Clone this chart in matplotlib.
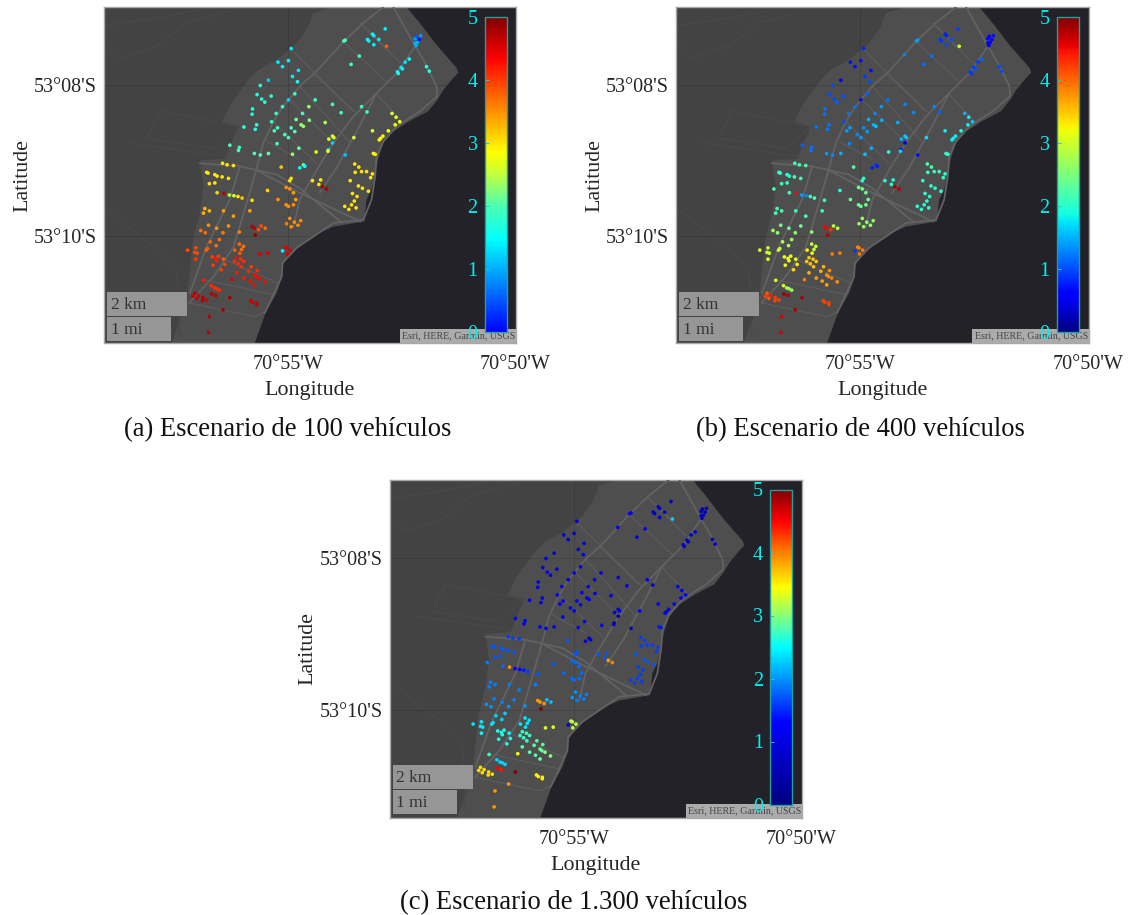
import numpy as np
import matplotlib
matplotlib.use("Agg")
import matplotlib.pyplot as plt
from matplotlib.colors import LinearSegmentedColormap
from matplotlib.patches import Polygon, Rectangle

plt.rcParams['font.family'] = ['Liberation Serif', 'DejaVu Serif']

nan = float('nan')

# Stations: arc minutes west of 70 deg, arc minutes south of 53 deg
lon_w = [
    52.86, 53.14, 53.11, 53.00, 53.25, 53.22, 53.11, 52.83, 53.77, 53.74,
    53.43, 53.61, 54.03, 52.20, 52.17, 52.11, 52.08, 52.20, 52.15, 52.18,
    52.33, 52.42, 52.51, 52.48, 52.59, 52.57, 51.95, 51.89, 54.93, 55.22,
    54.99, 55.12, 54.77, 54.90, 54.79, 55.43, 55.61, 55.68, 55.58, 55.51,
    55.37, 54.99, 54.85, 55.12, 54.40, 54.54, 54.02, 53.83, 53.38, 53.26,
    55.78, 55.79, 55.26, 55.36, 54.82, 54.68, 54.53, 54.18, 54.71, 54.66,
    54.93, 54.85, 55.23, 55.30, 55.07, 54.99, 55.69, 55.72, 55.97, 55.24,
    54.76, 56.07, 56.09, 56.28, 55.74, 55.61, 55.43, 54.90, 54.38, 54.11,
    54.12, 54.02, 54.02, 53.99, 54.10, 53.74, 53.55, 53.14, 52.79, 52.71,
    52.62, 52.64, 52.54, 52.99, 52.96, 52.91, 53.12, 53.08, 53.53, 53.44,
    53.52, 53.38, 53.27, 53.18, 53.14, 54.66, 54.63, 54.74, 55.15, 56.44,
    56.34, 56.20, 56.79, 56.76, 56.61, 56.56, 56.45, 56.31, 56.73, 56.61,
    56.56, 56.41, 56.29, 56.19, 56.10, 56.01, 55.79, 55.45, 54.93, 54.96,
    54.46, 54.28, 54.32, 54.24, 54.15, 55.04, 54.96, 54.88, 55.22, 54.83,
    55.04, 54.99, 54.88, 53.63, 53.45, 53.36, 53.23, 53.58, 53.48, 53.54,
    53.60, 53.75, 53.66, 53.50, 56.83, 56.73, 56.86, 56.42, 56.20, 55.84,
    55.03, 54.96, 54.86, 54.93, 54.78, 54.72, 56.75, 56.57, 56.31, 56.92,
    56.82, 56.43, 56.07, 55.79, 55.74, 55.65, 55.59, 55.50, 55.72, 56.71,
    56.51, 56.58, 57.21, 57.03, 57.05, 57.00, 56.77, 56.80, 57.03, 56.67,
    56.59, 56.53, 56.57, 56.42, 56.65, 56.39, 56.47, 56.07, 55.98, 56.02,
    56.17, 56.06, 56.13, 56.18, 56.04, 55.97, 56.10, 56.03, 55.81, 55.68,
    55.87, 56.13, 55.97, 55.74, 55.70, 55.63, 55.51, 55.84, 55.74, 56.23,
    55.62, 55.45, 55.06, 55.03, 54.95, 55.02, 55.12, 56.86, 56.69, 56.62,
    56.57, 56.51, 57.05, 56.97, 57.09, 57.01, 56.87, 56.79, 56.88, 56.68,
    56.59, 56.28, 55.82, 55.78, 55.69, 55.69, 56.43, 56.73, 56.75, 56.90,
]
lat_s = [
    7.26, 7.33, 7.35, 7.40, 7.40, 7.42, 7.47, 7.49, 7.42, 7.41,
    7.62, 7.73, 7.60, 7.39, 7.36, 7.40, 7.35, 7.45, 7.44, 7.48,
    7.66, 7.70, 7.77, 7.79, 7.83, 7.85, 7.76, 7.82, 7.52, 7.70,
    7.68, 7.76, 7.81, 7.89, 7.96, 7.94, 8.01, 8.13, 8.19, 8.23,
    8.15, 8.20, 8.12, 8.29, 8.20, 8.29, 8.26, 8.37, 8.29, 8.36,
    8.32, 8.39, 8.38, 8.49, 8.46, 8.38, 8.47, 8.50, 8.53, 8.55,
    8.57, 8.62, 8.57, 8.61, 8.66, 8.70, 8.53, 8.59, 8.56, 8.78,
    8.84, 8.83, 8.87, 8.80, 8.91, 8.93, 8.91, 8.92, 8.89, 8.86,
    8.88, 8.77, 8.68, 8.70, 8.72, 8.93, 8.70, 8.61, 8.61, 8.38,
    8.43, 8.53, 8.49, 8.73, 8.71, 8.68, 8.91, 8.92, 9.05, 9.09,
    9.16, 9.15, 9.15, 9.23, 9.18, 9.06, 9.08, 9.10, 9.09, 9.04,
    9.06, 9.07, 9.16, 9.17, 9.19, 9.21, 9.22, 9.24, 9.31, 9.30,
    9.43, 9.44, 9.46, 9.47, 9.48, 9.50, 9.53, 9.40, 9.24, 9.27,
    9.27, 9.26, 9.32, 9.35, 9.38, 9.36, 9.38, 9.43, 9.52, 9.52,
    9.59, 9.61, 9.59, 9.27, 9.34, 9.37, 9.41, 9.44, 9.48, 9.54,
    9.59, 9.61, 9.65, 9.63, 9.64, 9.67, 9.70, 9.67, 9.74, 9.67,
    9.84, 9.77, 9.82, 9.88, 9.86, 9.80, 9.86, 9.90, 9.87, 9.93,
    9.96, 9.96, 9.95, 9.88, 9.90, 9.92, 9.87, 9.90, 9.99, 10.08,
    10.05, 10.13, 10.19, 10.16, 10.22, 10.23, 10.17, 10.19, 10.31, 10.28,
    10.30, 10.27, 10.33, 10.31, 10.39, 10.38, 10.45, 10.11, 10.14, 10.18,
    10.19, 10.23, 10.29, 10.34, 10.31, 10.34, 10.37, 10.41, 10.41, 10.46,
    10.47, 10.49, 10.56, 10.52, 10.54, 10.56, 10.61, 10.60, 10.65, 10.58,
    10.24, 10.23, 10.15, 10.16, 10.19, 10.24, 10.20, 10.59, 10.66, 10.69,
    10.70, 10.72, 10.76, 10.79, 10.80, 10.83, 10.82, 10.85, 10.86, 10.77,
    10.79, 10.82, 10.86, 10.88, 10.89, 10.91, 10.98, 11.07, 11.28, 9.38,
]

# Values per scenario (nan = station not shown in that scenario)
values_100 = [
    1.4, 1.4, 1.4, 1.35, 1.4, 1.4, 1.4, 3.8, 2.0, 2.0,
    1.9, 1.9, nan, 0.9, 0.5, 0.1, 0.9, 1.0, 1.0, 1.0,
    1.5, 1.3, 1.3, 1.4, 1.5, 1.5, 1.7, 1.7, 1.4, 1.35,
    1.4, 1.35, 1.35, 1.4, 1.6, 1.15, 1.7, 1.7, 1.7, 1.7,
    1.7, 1.2, 1.8, 1.8, 1.9, 2.3, 1.9, 1.9, 1.9, 1.8,
    1.7, 1.7, 1.8, 1.8, 2.2, 1.9, 2.2, 2.4, 2.3, 2.3,
    1.9, 2.0, 1.9, 1.9, 1.9, 1.9, 1.7, 1.7, 1.8, 1.9,
    2.1, 1.9, 1.9, 2.0, 2.0, 2.0, 2.1, 2.3, 2.8, 1.3,
    2.8, 1.2, 2.6, 2.6, 2.6, 1.1, 2.6, 2.6, 2.8, 2.6,
    2.7, 2.8, 2.8, 2.9, 2.9, 2.9, 2.9, 2.9, 3.0, 3.0,
    3.0, 3.0, 3.0, 3.0, 3.0, 2.1, 1.5, 1.5, 3.2, 3.0,
    3.0, 3.0, 3.0, 3.0, 3.0, 3.0, 3.0, 3.0, 3.0, 3.0,
    3.1, 4.7, 2.5, 2.6, 3.0, 3.2, 3.0, 3.1, 3.0, 3.0,
    3.0, 3.0, 3.0, 4.8, 4.8, 3.5, 3.5, 3.4, 3.5, 3.4,
    3.5, 3.5, 3.5, 3.0, 3.0, 3.0, 3.0, 3.0, 3.0, 3.0,
    3.0, 3.0, 3.0, 3.0, 3.3, 3.3, 3.3, 3.4, 3.4, 3.4,
    3.6, 3.5, 3.5, 3.5, 3.5, 3.5, 3.5, 3.5, 3.5, 3.7,
    3.7, 3.6, 3.6, 4.7, 4.7, 3.9, 3.9, 3.7, 4.9, 3.8,
    3.7, 3.7, 3.9, 3.9, 3.9, 3.9, 3.8, 3.8, 4.0, 4.0,
    4.2, 4.0, 4.2, 3.8, 4.0, 4.0, 4.0, 3.7, 3.7, 3.7,
    3.8, 3.8, 4.3, 4.1, 4.1, 4.1, 4.1, 4.1, 4.0, 4.1,
    4.1, 4.2, 4.2, 4.3, 4.3, 4.3, 4.3, 4.3, 4.3, 4.5,
    4.5, 4.5, 4.5, 4.5, 4.5, 4.5, 1.4, 4.2, 4.1, 4.1,
    4.1, 4.1, 4.7, 4.6, 4.6, 4.6, 4.7, 4.6, 4.7, 4.8,
    4.7, 4.8, 4.6, 4.6, 4.6, 4.6, 4.8, 4.7, 4.7, nan,
]
values_400 = [
    0.9, 0.8, 0.8, 1.0, 0.9, 0.9, 1.0, 2.9, 1.4, 1.4,
    1.2, 1.2, 1.3, 0.6, 0.6, 0.6, 0.7, 0.5, 0.6, 0.5,
    1.1, 0.9, 0.9, 1.0, 0.9, 0.9, 1.0, 1.0, 0.8, 0.7,
    0.7, 0.7, 0.7, 0.9, 1.0, 0.6, 1.0, 1.0, 1.0, 1.1,
    1.0, 0.7, 1.1, 1.2, 1.2, 1.4, 1.3, 1.3, 1.3, 1.1,
    1.2, 1.2, 1.2, 1.0, 1.5, 1.3, 1.5, 1.5, 1.5, 1.6,
    1.3, 1.4, 1.4, 1.4, 1.3, 1.4, 1.2, 1.2, 1.2, 1.3,
    1.5, 1.2, 1.2, 1.1, 1.4, 1.3, 1.5, 1.6, 1.9, 0.6,
    1.7, 0.5, 1.6, 1.6, 1.5, 0.7, 1.7, 1.8, 1.9, 1.5,
    1.8, 1.8, 1.6, 1.8, 1.8, 1.8, 2.0, 2.0, 2.2, 2.2,
    2.1, 2.1, 2.1, 2.0, 2.0, 0.9, 0.8, 0.8, 2.3, 2.1,
    2.2, 2.2, 2.0, 2.0, 2.0, 2.0, 2.2, 2.1, 2.1, 2.1,
    2.2, 4.5, 1.4, 1.3, 2.1, 2.2, 2.0, 2.0, 2.0, 2.0,
    2.0, 2.0, 2.0, 4.8, 4.8, 2.4, 2.4, 2.4, 2.4, 2.4,
    2.4, 2.4, 2.4, 2.0, 2.0, 2.0, 2.0, 2.0, 2.0, 2.0,
    2.0, 2.0, 2.0, 2.0, 2.1, 2.2, 2.2, 2.1, 2.2, 2.1,
    2.6, 2.6, 2.6, 2.6, 2.6, 2.6, 2.4, 2.4, 2.4, 2.7,
    2.6, 2.6, 2.6, 4.5, 4.5, 4.3, 2.9, 2.9, 4.8, 2.8,
    2.7, 2.8, 3.1, 2.9, 3.0, 3.0, 2.8, 3.0, 3.1, 3.2,
    3.2, 3.1, 3.2, 3.2, 3.2, 3.3, 3.4, 2.9, 2.9, 2.9,
    3.3, 3.2, 3.5, 3.5, 3.5, 3.5, 3.5, 3.5, 3.6, 3.8,
    3.6, 3.6, 3.7, 3.8, 3.8, 3.9, 3.8, 3.7, 3.7, 3.9,
    3.9, 3.9, 3.9, 3.9, 3.9, 3.9, 0.9, 3.0, 3.0, 2.7,
    2.7, 2.7, 4.1, 4.4, 4.2, 4.1, 4.2, 4.2, 4.2, 4.9,
    4.8, 4.8, 4.2, 4.2, 4.2, 4.2, 4.8, 4.6, 4.6, 2.2,
]
values_1300 = [
    0.8, 0.8, 0.8, 0.9, 0.8, 0.8, 0.8, 2.3, 1.1, 1.1,
    1.0, 1.0, 1.0, 0.6, 0.6, 0.6, 0.6, 0.6, 0.6, 0.6,
    0.9, 0.8, 0.8, 0.8, 0.8, 0.8, 0.8, 0.8, 0.9, 0.9,
    0.9, 0.9, 0.9, 0.9, 0.9, 0.9, 0.9, 1.0, 1.0, 1.0,
    1.0, 1.0, 1.0, 1.0, 1.1, 1.1, 1.1, 1.1, 0.9, 0.9,
    1.1, 1.1, 1.1, 1.1, 1.1, 1.1, 1.1, 1.1, 1.1, 1.1,
    1.2, 1.2, 1.2, 1.2, 1.2, 1.2, 1.2, 1.2, 1.2, 1.2,
    1.2, 1.2, 1.2, 1.2, 1.2, 1.2, 1.2, 1.2, 1.3, 0.5,
    0.7, 0.5, 1.0, 1.0, 1.0, 0.5, 1.1, 1.3, 1.3, 1.1,
    1.1, 1.2, 1.2, 1.2, 1.2, 1.2, 1.4, 1.4, 1.6, 1.6,
    1.6, 1.6, 1.6, 1.6, 1.6, 0.9, 0.9, 0.9, 1.7, 1.6,
    1.6, 1.6, 1.7, 1.7, 1.7, 1.7, 1.7, 1.7, 1.7, 1.7,
    1.8, 3.9, 1.0, 1.0, 1.4, 1.6, 1.7, 1.7, 1.7, 1.7,
    1.7, 1.7, 1.7, 3.9, 4.0, 1.8, 1.8, 1.8, 1.8, 1.8,
    1.8, 1.8, 1.8, 1.7, 1.7, 1.7, 1.7, 1.6, 1.6, 1.6,
    1.6, 1.6, 1.6, 1.6, 1.9, 1.9, 1.9, 1.9, 1.9, 1.9,
    2.0, 2.0, 1.9, 1.9, 1.9, 1.9, 1.9, 1.9, 1.9, 2.0,
    2.0, 2.0, 2.0, 3.9, 3.9, 3.9, 2.2, 2.2, 5.0, 2.3,
    2.3, 2.3, 2.4, 2.4, 2.4, 2.4, 2.3, 2.4, 2.5, 2.6,
    2.6, 2.6, 2.6, 2.5, 2.6, 2.6, 2.6, 2.4, 2.4, 2.4,
    2.4, 2.4, 2.7, 2.7, 2.7, 2.7, 2.7, 2.7, 2.8, 2.8,
    2.8, 2.8, 2.8, 2.9, 2.9, 3.0, 3.0, 2.8, 2.9, 3.4,
    3.3, 3.3, 3.2, 3.2, 3.2, 3.2, 0.8, 2.7, 2.3, 2.3,
    2.3, 2.3, 3.6, 3.6, 3.6, 3.6, 3.6, 3.6, 3.6, 4.5,
    4.4, 5.0, 3.5, 3.5, 3.5, 3.5, 3.9, 3.9, 3.9, 1.9,
]

# Map outline, same units as the stations
coast_lon = [52.39, 52.06, 51.73, 51.28, 51.25, 51.36, 51.58, 51.71, 51.91, 52.35, 52.68, 52.90, 53.01,
             53.06, 53.16, 53.27, 53.32, 54.00, 54.30, 54.74, 55.03, 55.12, 55.12, 55.25, 55.49, 55.73]
coast_lat = [6.97, 7.21, 7.47, 7.78, 7.84, 7.91, 8.07, 8.20, 8.35, 8.49, 8.62, 8.77, 8.97,
             9.13, 9.39, 9.52, 9.81, 9.88, 9.96, 10.14, 10.30, 10.41, 10.54, 10.76, 11.02, 11.42]
inland_lon = [54.00, 54.44, 54.57, 54.81, 55.25, 55.65, 55.87, 56.24, 56.46, 56.09, 56.31, 56.39, 56.94,
              56.86, 56.94, 57.09, 57.20, 57.22, 57.56]
inland_lat = [6.97, 7.05, 7.25, 7.45, 7.67, 7.80, 7.93, 8.24, 8.49, 8.55, 8.86, 8.98, 9.00,
              9.35, 9.70, 10.05, 10.67, 10.87, 11.42]

main_roads = [
    ([52.90, 53.34, 53.78, 54.37, 54.74, 55.14, 55.32, 55.54, 55.70, 55.91, 56.20, 56.64, 57.17],
     [6.97, 7.18, 7.43, 7.82, 8.02, 8.31, 8.49, 8.77, 9.13, 9.57, 10.15, 10.54, 10.89]),
    ([52.68, 52.20, 51.98, 51.73, 51.71, 52.09, 52.61, 52.90, 53.05, 53.08, 53.16, 53.34, 54.00, 54.44, 54.81,
      55.12, 55.14, 55.32, 55.51],
     [6.97, 7.49, 7.71, 8.02, 8.15, 8.35, 8.55, 8.75, 8.95, 9.21, 9.52, 9.79, 9.83, 10.01, 10.16,
      10.36, 10.54, 10.78, 11.02]),
    ([52.20, 52.61, 53.05, 53.56, 54.00, 54.37, 54.74, 54.88], [7.49, 7.85, 8.11, 8.42, 8.77, 9.13, 9.52, 9.88]),
    ([53.05, 53.41, 53.93, 54.30], [8.11, 8.53, 9.10, 9.43]),
    ([56.94, 56.06, 55.25, 54.74, 53.85], [9.04, 9.08, 9.19, 9.37, 9.81]),
    ([55.70, 54.81, 53.41], [9.13, 9.41, 9.81]),
    ([56.06, 56.28, 56.79, 57.16], [9.08, 9.52, 10.14, 10.76]),
]
side_roads = [
    ([56.57, 55.21], [10.27, 10.63]),
    ([56.86, 55.32], [10.58, 10.78]),
    ([57.17, 55.73, 55.49], [10.89, 11.07, 11.00]),
    ([53.34, 52.53], [7.23, 7.71]),
    ([54.92, 53.49], [7.54, 8.38]),
    ([54.44, 53.56], [7.85, 8.35]),
    ([54.74, 53.63], [8.02, 8.77]),
    ([54.96, 54.00], [8.20, 8.77]),
    ([55.32, 54.37], [8.49, 9.04]),
    ([55.47, 54.74], [8.75, 8.99]),
    ([53.05, 52.53], [8.13, 8.46]),
    ([53.41, 52.79], [7.18, 7.54]),
    ([53.78, 52.83], [7.43, 7.96]),
]
faint_roads = [
    ([58.99, 58.11, 56.94], [7.21, 7.14, 7.01]),
    ([58.96, 58.70, 57.89, 57.23, 56.20], [7.49, 7.65, 7.49, 7.18, 7.01]),
    ([57.82, 58.11, 56.64, 56.09, 57.82], [8.35, 8.71, 8.84, 8.55, 8.35]),
    ([58.48, 56.35], [8.77, 8.95]),
    ([58.99, 58.04, 57.45, 57.38], [9.66, 10.10, 10.45, 11.33]),
]

lon_ticks = [55, 50]
lon_labels = ["70°55'W", "70°50'W"]
lat_ticks = [8, 10]
lat_labels = ["53°08'S", "53°10'S"]
cbar_ticks = [0, 1, 2, 3, 4, 5]


def stops_cmap(stops):
    return LinearSegmentedColormap.from_list("c", [(v / 5, col) for v, col in stops])


cmap_100 = stops_cmap([(0, (0, 0, 1)), (1.46, (0, 1, 1)), (2.0, (.3, 1, .7)), (2.55, (.8, 1, .2)), (2.85, (1, 1, 0)),
                       (3.6, (1, .5, 0)), (4.35, (1, 0, 0)), (5, (.5, 0, 0))])
cmap_1300 = stops_cmap([(0, (0, 0, .5)), (1.3, (0, 0, 1)), (2.5, (0, 1, 1)), (3.45, (1, 1, 0)), (4.0, (1, .5, 0)),
                        (4.5, (1, 0, 0)), (5, (.5, 0, 0))])

W, H = 1128, 915
fig = plt.figure(figsize=(W / 100, H / 100), dpi=100)

# left, top of each map in pixels, with its data, colormap and caption (x, baseline)
panels = [
    (104, 7, 412, 336, values_100, cmap_100, "(a) Escenario de 100 vehículos", 287.5, 436),
    (676, 7, 413, 336, values_400, plt.get_cmap('jet'), "(b) Escenario de 400 vehículos", 860, 436),
    (389.5, 479.5, 412.5, 338, values_1300, cmap_1300, "(c) Escenario de 1.300 vehículos", 573.5, 909),
]

for left, top, pw, ph, vals, cmap, caption, cap_x, cap_y in panels:
    ax = fig.add_axes([left / W, 1 - (top + ph) / H, pw / W, ph / H])
    ax.set_facecolor('#434344')
    xl = (59.05, 49.98)
    yl = (11.42, 6.97)

    # 1) Land and sea
    land = list(zip(inland_lon, inland_lat)) + list(zip(coast_lon[::-1], coast_lat[::-1]))
    ax.add_patch(Polygon(land, facecolor='#4e4e4f', edgecolor='none', zorder=1))
    sea = list(zip(coast_lon, coast_lat)) + [(xl[1], yl[0]), (xl[1], yl[1])]
    ax.add_patch(Polygon(sea, facecolor='#232228', edgecolor='none', zorder=2))

    # 2) Roads
    for rx, ry in faint_roads:
        ax.plot(rx, ry, color='#49494a', lw=0.8, zorder=1.5)
    for rx, ry in side_roads:
        ax.plot(rx, ry, color='#5c5c5d', lw=0.8, zorder=3)
    for rx, ry in main_roads:
        ax.plot(rx, ry, color='#626263', lw=1.3, zorder=3)

    # 3) Stations
    sc = ax.scatter(lon_w, lat_s, c=vals, cmap=cmap, vmin=0, vmax=5, s=7, linewidths=0, zorder=5)

    ax.set_xlim(xl)
    ax.set_ylim(yl)
    ax.set_xticks(lon_ticks, lon_labels, fontsize=14.5, color='#262626')
    ax.set_yticks(lat_ticks, lat_labels, fontsize=14.5, color='#262626')
    ax.tick_params(length=0)
    ax.tick_params(axis='x', pad=9)
    ax.tick_params(axis='y', pad=5)
    ax.grid(True, color='black', lw=0.6, alpha=0.15)
    ax.set_xlabel("Longitude", fontsize=15.8, color='#262626', labelpad=5)
    ax.set_ylabel("Latitude", fontsize=15.8, color='#262626', labelpad=1.5)
    for s in ax.spines.values():
        s.set_color('#a8a8a8')
        s.set_linewidth(1)

    # 4) Scale boxes and attribution
    for bx, by, bw, bh, txt in [(3, 285, 80, 24, "2 km"), (3, 310, 64, 24, "1 mi")]:
        ax.add_patch(Rectangle((bx / pw, 1 - (by + bh) / ph), bw / pw, bh / ph, transform=ax.transAxes,
                               facecolor='#969696', edgecolor='none', zorder=6))
        ax.text((bx + 4) / pw, 1 - (by + bh / 2 + 1.5) / ph, txt, transform=ax.transAxes, fontsize=12.5,
                color='#333333', va='center', zorder=7)
    ax.add_patch(Rectangle((296 / pw, 0), (pw - 296) / pw, 14 / ph, transform=ax.transAxes,
                           facecolor='#ababab', edgecolor='none', zorder=6))
    ax.text((pw - 1) / pw, 7 / ph, "Esri, HERE, Garmin, USGS", transform=ax.transAxes, fontsize=7.2,
            color='#444444', ha='right', va='center', zorder=7)

    # 5) Colorbar
    cax = fig.add_axes([(left + 380.5) / W, 1 - (top + 325) / H, 22 / W, 315 / H], zorder=10)
    cb = fig.colorbar(sc, cax=cax, ticks=cbar_ticks)
    cb.outline.set_edgecolor('#22a0a0')
    cb.outline.set_linewidth(1)
    cax.yaxis.set_ticks_position('left')
    cax.tick_params(axis='y', direction='in', length=3, width=0.7, color='#22cccc', labelcolor='#00f0f0',
                    labelsize=14.5, pad=5)

    fig.text(cap_x / W, 1 - cap_y / H, caption, fontsize=19.2, color='#111111', ha='center', va='baseline')

fig.savefig("out.png", dpi=100)
